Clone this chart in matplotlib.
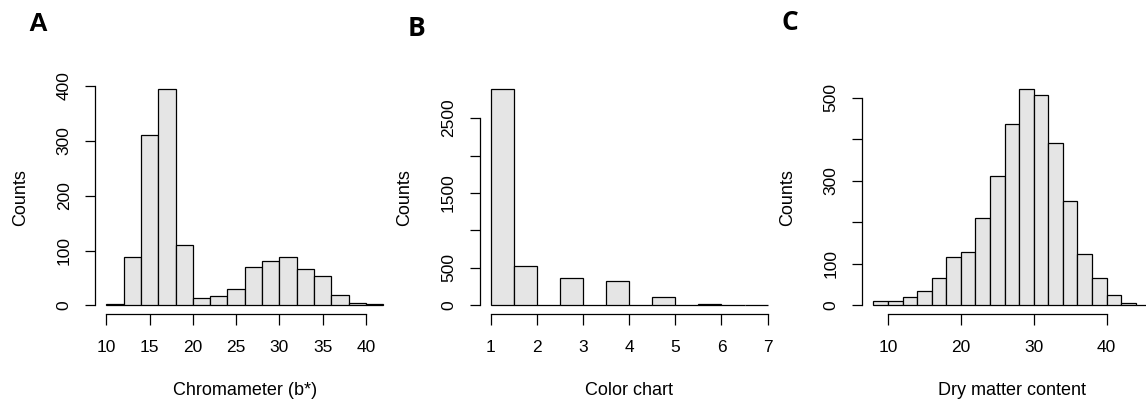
import matplotlib
matplotlib.use("Agg")
import matplotlib.pyplot as plt
import numpy as np

plt.rcParams["font.family"] = ["Liberation Sans", "DejaVu Sans"]

# histogram counts per bin (bin edges start + width)
chroma_start, chroma_width = 10, 2
chroma_counts = [3, 89, 311, 394, 111, 13, 17, 30, 70, 81, 89, 67, 53, 18, 5, 2]

color_start, color_width = 1, 0.5
color_counts = [2883, 525, 0, 360, 0, 320, 0, 111, 0, 13, 0, 4]

dry_start, dry_width = 8, 2
dry_counts = [10, 10, 19, 34, 65, 116, 128, 210, 311, 437, 520, 507,
              392, 252, 124, 67, 24, 5, 2]

panels = [
    dict(letter="A", counts=chroma_counts, start=chroma_start, width=chroma_width,
         xlabel="Chromameter (b*)", xticks=[10, 15, 20, 25, 30, 35, 40],
         yticks=[0, 100, 200, 300, 400], ylabels=["0", "100", "200", "300", "400"],
         left=95.3, letter_xy=(38, 24), letter_font=["Liberation Sans"]),
    dict(letter="B", counts=color_counts, start=color_start, width=color_width,
         xlabel="Color chart", xticks=[1, 2, 3, 4, 5, 6, 7],
         yticks=[0, 500, 1000, 1500, 2000, 2500], ylabels=["0", "500", "", "1500", "", "2500"],
         left=479.7, letter_xy=(416, 29), letter_font=["Open Sans", "DejaVu Sans"]),
    dict(letter="C", counts=dry_counts, start=dry_start, width=dry_width,
         xlabel="Dry matter content", xticks=[10, 20, 30, 40],
         yticks=[0, 100, 200, 300, 400, 500], ylabels=["0", "100", "", "300", "", "500"],
         left=862.3, letter_xy=(790, 23), letter_font=["Open Sans", "DejaVu Sans"]),
]

W, H = 1146, 403
fig = plt.figure(figsize=(W / 100, H / 100), dpi=100)

ax_w, ax_top, ax_bot = 299.0, 80.7, 314.0

for p in panels:
    ax = fig.add_axes([p["left"] / W, (H - ax_bot) / H, ax_w / W, (ax_bot - ax_top) / H])
    counts = np.array(p["counts"], dtype=float)
    edges = p["start"] + p["width"] * np.arange(len(counts) + 1)
    ax.bar(edges[:-1], counts, width=p["width"], align="edge",
           color="#E5E5E5", edgecolor="black", linewidth=0.9)

    # R-style 4% padding on both axes
    xr = edges[-1] - edges[0]
    ax.set_xlim(edges[0] - 0.04 * xr, edges[-1] + 0.04 * xr)
    yr = counts.max()
    ax.set_ylim(-0.04 * yr, yr * 1.04)

    for s in ["top", "right"]:
        ax.spines[s].set_visible(False)
    ax.spines["left"].set_bounds(p["yticks"][0], p["yticks"][-1])
    ax.spines["bottom"].set_bounds(p["xticks"][0], p["xticks"][-1])
    ax.spines["left"].set_linewidth(0.9)
    ax.spines["bottom"].set_linewidth(0.9)

    ax.set_xticks(p["xticks"])
    ax.set_xticklabels([str(t) for t in p["xticks"]], fontsize=12.5)
    ax.set_yticks(p["yticks"])
    ax.set_yticklabels(p["ylabels"], fontsize=12.5, rotation=90, va="center")
    ax.tick_params(axis="x", length=8, width=0.9, pad=11)
    ax.tick_params(axis="y", length=7, width=0.9, pad=10)

    ax.set_xlabel(p["xlabel"], fontsize=13)
    ax.xaxis.set_label_coords(0.5, -0.33)
    ax.xaxis.label.set_va("center")
    ax.set_ylabel("Counts", fontsize=13)
    ax.yaxis.set_label_coords(-0.25, 0.5)
    ax.yaxis.label.set_va("center")

    fig.text(p["letter_xy"][0] / W, 1 - p["letter_xy"][1] / H, p["letter"],
             fontsize=19, fontweight="bold", family=p["letter_font"],
             ha="center", va="center")

fig.savefig("out.png", dpi=100)
